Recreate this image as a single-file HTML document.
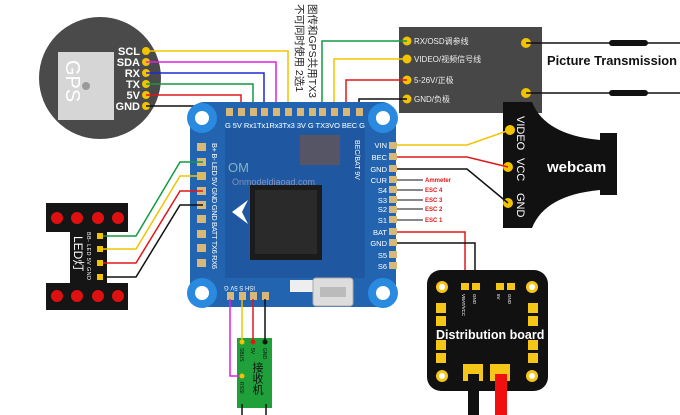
<!DOCTYPE html>
<html><head><meta charset="utf-8"><style>
html,body{margin:0;padding:0;background:#fff;}
svg{display:block;font-family:"Liberation Sans","Noto Sans CJK SC",sans-serif;}
</style></head><body>
<svg width="680" height="415" viewBox="0 0 680 415" xmlns="http://www.w3.org/2000/svg">
<!-- GPS -->
<circle cx="100" cy="78" r="61" fill="#4a4a4a"/>
<rect x="58" y="52" width="56" height="68" fill="#d6d6d6"/>
<circle cx="86" cy="86" r="4" fill="#999"/>
<text x="0" y="0" transform="translate(66,60) rotate(90)" font-size="20" fill="#fff">GPS</text>
<g font-size="11" fill="#fff" text-anchor="end" font-weight="bold">
<text x="140" y="55">SCL</text><text x="140" y="66">SDA</text><text x="140" y="77">RX</text>
<text x="140" y="88">TX</text><text x="140" y="99">5V</text><text x="140" y="110">GND</text></g>
<g fill="#f2c300"><circle cx="146" cy="51" r="4"/><circle cx="146" cy="62" r="4"/><circle cx="146" cy="73" r="4"/><circle cx="146" cy="84" r="4"/><circle cx="146" cy="95" r="4"/><circle cx="146" cy="106" r="4"/></g>
<g fill="none" stroke-width="1.5">
<polyline points="146,51 288,51 288,112" stroke="#f2c300"/>
<polyline points="146,62 276,62 276,112" stroke="#e020e0"/>
<polyline points="146,73 264,73 264,112" stroke="#1a2ad0"/>
<polyline points="146,84 253,84 253,112" stroke="#129a40"/>
<polyline points="146,95 241,95 241,112" stroke="#e01818"/>
<polyline points="146,106 229,106 229,112" stroke="#111"/>
</g>
<text x="309" y="4" font-size="10.5" style="writing-mode:vertical-rl;text-orientation:sideways" fill="#222">图传和GPS共用TX3</text>
<text x="296" y="4" font-size="10.5" style="writing-mode:vertical-rl;text-orientation:sideways" fill="#222">不可同时使用  2选1</text>
<!-- Picture transmission -->
<rect x="399" y="27" width="143" height="86" fill="#474747"/>
<g fill="#f2c300"><circle cx="407" cy="41" r="4.5"/><circle cx="407" cy="59" r="4.5"/><circle cx="407" cy="80" r="4.5"/><circle cx="407" cy="99" r="4.5"/><circle cx="526" cy="43" r="5"/><circle cx="526" cy="93" r="5"/></g>
<g font-size="8" fill="#eee"><text x="414" y="44">RX/OSD调参线</text><text x="414" y="62">VIDEO/视频信号线</text><text x="414" y="83">5-26V/正极</text><text x="414" y="102">GND/负极</text></g>
<g stroke="#111"><line x1="526" y1="43" x2="680" y2="43" stroke-width="1.5"/><line x1="526" y1="93" x2="680" y2="93" stroke-width="1.5"/>
<line x1="612" y1="43" x2="645" y2="43" stroke-width="6" stroke-linecap="round"/><line x1="612" y1="93" x2="645" y2="93" stroke-width="6" stroke-linecap="round"/></g>
<text x="547" y="65" font-size="13" font-weight="bold" fill="#111" textLength="130" lengthAdjust="spacingAndGlyphs">Picture Transmission</text>
<g fill="none" stroke-width="1.5">
<polyline points="407,41 322,41 322,112" stroke="#129a40"/>
<polyline points="407,59 334,59 334,112" stroke="#f2c300"/>
<polyline points="407,80 346,80 346,112" stroke="#e01818"/>
<polyline points="407,99 359,99 359,112" stroke="#111"/>
</g>
<!-- Webcam -->
<path d="M503,102 L532,102 Q545,135 600,140 L600,133 L617,133 L617,195 L600,195 L600,190 Q545,195 532,228 L503,228 Z" fill="#111"/>
<g fill="#f2c300"><circle cx="510" cy="130" r="5"/><circle cx="508" cy="167" r="5"/><circle cx="508" cy="203" r="5"/></g>
<g font-size="11" fill="#fff"><text transform="translate(517,116) rotate(90)">VIDEO</text><text transform="translate(517,158) rotate(90)">VCC</text><text transform="translate(517,193) rotate(90)">GND</text></g>
<text x="547" y="172" font-size="15" font-weight="bold" fill="#fff">webcam</text>
<!-- FC board -->
<rect x="190" y="102" width="206" height="205" rx="14" fill="#2364b0"/>
<rect x="225" y="128" width="140" height="150" fill="#1f58a0"/>
<rect x="250" y="185" width="72" height="75" fill="#1b1b1b"/>
<rect x="255" y="190" width="62" height="64" fill="#2a2a2a"/>
<path d="M232,212 L248,200 L242,212 L248,224 Z" fill="#fff"/>
<text x="228" y="172" font-size="13" fill="#9cc" opacity="0.8">OM</text>
<text x="232" y="185" font-size="9" fill="#aac" opacity="0.7">Onmodeldiaoad.com</text>
<rect x="300" y="135" width="40" height="30" fill="#556"/>
<rect x="290" y="280" width="25" height="12" fill="#eee"/>
<rect x="313" y="278" width="40" height="28" rx="3" fill="#ddd" stroke="#aaa"/>
<rect x="320" y="287" width="26" height="10" fill="#bbb"/>
<g fill="#2a8ae0"><circle cx="202" cy="118" r="15"/><circle cx="383" cy="118" r="15"/><circle cx="202" cy="293" r="15"/><circle cx="383" cy="293" r="15"/></g>
<g fill="#fff"><circle cx="202" cy="118" r="7"/><circle cx="383" cy="118" r="7"/><circle cx="202" cy="293" r="7"/><circle cx="383" cy="293" r="7"/></g>
<!-- top pads -->
<g fill="#d8b878"><rect x="226" y="108" width="7" height="8"/><rect x="238" y="108" width="7" height="8"/><rect x="250" y="108" width="7" height="8"/><rect x="261" y="108" width="7" height="8"/><rect x="273" y="108" width="7" height="8"/><rect x="285" y="108" width="7" height="8"/><rect x="297" y="108" width="7" height="8"/><rect x="309" y="108" width="7" height="8"/><rect x="319" y="108" width="7" height="8"/><rect x="331" y="108" width="7" height="8"/><rect x="343" y="108" width="7" height="8"/><rect x="356" y="108" width="7" height="8"/></g>
<text x="225" y="128" font-size="7.5" fill="#fff" textLength="140">G 5V Rx1Tx1Rx3Tx3 3V G TX3VO BEC G</text>
<!-- right pads -->
<g fill="#d8b878"><rect x="389" y="142" width="8" height="7"/><rect x="389" y="153" width="8" height="7"/><rect x="389" y="165" width="8" height="7"/><rect x="389" y="176" width="8" height="7"/><rect x="389" y="186" width="8" height="7"/><rect x="389" y="196" width="8" height="7"/><rect x="389" y="206" width="8" height="7"/><rect x="389" y="216" width="8" height="7"/><rect x="389" y="228" width="8" height="7"/><rect x="389" y="239" width="8" height="7"/><rect x="389" y="251" width="8" height="7"/><rect x="389" y="262" width="8" height="7"/></g>
<g font-size="7.5" fill="#fff" text-anchor="end"><text x="387" y="148">VIN</text><text x="387" y="160">BEC</text><text x="387" y="172">GND</text><text x="387" y="183">CUR</text><text x="387" y="193">S4</text><text x="387" y="203">S3</text><text x="387" y="212">S2</text><text x="387" y="223">S1</text><text x="387" y="235">BAT</text><text x="387" y="246">GND</text><text x="387" y="258">S5</text><text x="387" y="269">S6</text></g>
<text transform="translate(355,140) rotate(90)" font-size="7" fill="#fff">BEC/BAT 9V</text>
<!-- left pads -->
<g fill="#d8b878"><rect x="197" y="143" width="9" height="8"/><rect x="197" y="158" width="9" height="8"/><rect x="197" y="172" width="9" height="8"/><rect x="197" y="187" width="9" height="8"/><rect x="197" y="201" width="9" height="8"/><rect x="197" y="215" width="9" height="8"/><rect x="197" y="230" width="9" height="8"/><rect x="197" y="244" width="9" height="8"/><rect x="197" y="259" width="9" height="8"/></g>
<text transform="translate(212,143) rotate(90)" font-size="7.5" fill="#fff" textLength="126">B+ B- LED 5V GND GND BATT TX6 RX6</text>
<!-- bottom pads -->
<g fill="#d8b878"><rect x="227" y="292" width="7" height="8"/><rect x="239" y="292" width="7" height="8"/><rect x="250" y="292" width="7" height="8"/><rect x="262" y="292" width="7" height="8"/></g>
<text transform="translate(224,286) rotate(180)" font-size="6" fill="#fff" text-anchor="end">ISH  S  5V  G</text>
<!-- right wires -->
<g fill="none" stroke-width="1.5">
<polyline points="397,145 467,145 510,130" stroke="#f2c300"/>
<polyline points="397,157 467,157 508,167" stroke="#e01818"/>
<polyline points="397,169 467,169 508,203" stroke="#111"/>
<polyline points="397,232 465,232 465,285" stroke="#e01818"/>
<polyline points="397,243 475,243 475,285" stroke="#111"/>
</g>
<g stroke="#111" stroke-width="1"><line x1="397" y1="180" x2="423" y2="180"/><line x1="397" y1="190" x2="423" y2="190"/><line x1="397" y1="200" x2="423" y2="200"/><line x1="397" y1="209" x2="423" y2="209"/><line x1="397" y1="220" x2="423" y2="220"/></g>
<g font-size="6" fill="#e01818" font-weight="bold"><text x="425" y="182">Ammeter</text><text x="425" y="192">ESC 4</text><text x="425" y="202">ESC 3</text><text x="425" y="211">ESC 2</text><text x="425" y="222">ESC 1</text></g>
<!-- Distribution board -->
<rect x="427" y="270" width="121" height="121" rx="14" fill="#111"/>
<g fill="#f5c518"><circle cx="442" cy="287" r="6"/><circle cx="532" cy="287" r="6"/><circle cx="442" cy="376" r="6"/><circle cx="532" cy="376" r="6"/>
<rect x="461" y="283" width="8" height="7"/><rect x="472" y="283" width="8" height="7"/><rect x="496" y="283" width="8" height="7"/><rect x="507" y="283" width="8" height="7"/>
<rect x="436" y="303" width="10" height="10"/><rect x="436" y="316" width="10" height="10"/><rect x="436" y="340" width="10" height="10"/><rect x="436" y="353" width="10" height="10"/>
<rect x="528" y="303" width="10" height="10"/><rect x="528" y="316" width="10" height="10"/><rect x="528" y="340" width="10" height="10"/><rect x="528" y="353" width="10" height="10"/>
<rect x="463" y="364" width="20" height="17"/><rect x="490" y="364" width="20" height="17"/></g>
<circle cx="442" cy="287" r="3" fill="#fff"/><circle cx="532" cy="287" r="3" fill="#fff"/><circle cx="442" cy="376" r="3" fill="#fff"/><circle cx="532" cy="376" r="3" fill="#fff"/>
<g font-size="4.5" fill="#fff"><text transform="translate(462,294) rotate(90)">VBAT/VCC</text><text transform="translate(473,294) rotate(90)">GND</text><text transform="translate(497,294) rotate(90)">5V</text><text transform="translate(508,294) rotate(90)">GND</text></g>
<text x="436" y="339" font-size="12.5" font-weight="bold" fill="#fff">Distribution board</text>
<rect x="468" y="374" width="11" height="41" fill="#111"/>
<rect x="495" y="374" width="12" height="41" fill="#f01010"/>
<!-- LED board -->
<path d="M46,203 H128 V232 H107 V283 H128 V310 H46 V283 H70 V232 H46 Z" fill="#151515"/>
<g fill="#e01010"><circle cx="57" cy="218" r="6"/><circle cx="77" cy="218" r="6"/><circle cx="98" cy="218" r="6"/><circle cx="118" cy="218" r="6"/><circle cx="57" cy="296" r="6"/><circle cx="77" cy="296" r="6"/><circle cx="98" cy="296" r="6"/><circle cx="118" cy="296" r="6"/></g>
<g fill="#f2c300"><rect x="97" y="233" width="6" height="6"/><rect x="97" y="246" width="6" height="6"/><rect x="97" y="260" width="6" height="6"/><rect x="97" y="274" width="6" height="6"/></g>
<text transform="translate(74,236) rotate(90)" font-size="12" fill="#fff">LED灯</text>
<text transform="translate(87,232) rotate(90)" font-size="5.5" fill="#fff" textLength="48">BB- LED 5V GND</text>
<g fill="none" stroke-width="1.5">
<polyline points="103,236 136,236 180,162 203,162" stroke="#129a40"/>
<polyline points="103,249 136,249 180,176 203,176" stroke="#f2c300"/>
<polyline points="103,263 136,263 180,191 203,191" stroke="#e01818"/>
<polyline points="103,277 136,277 180,205 203,205" stroke="#111"/>
</g>
<!-- Receiver -->
<rect x="237" y="338" width="35" height="70" fill="#1fa03a"/>
<g fill="none" stroke-width="1.5">
<polyline points="230,299 230,376 242,376" stroke="#e020e0"/>
<line x1="242" y1="299" x2="242" y2="342" stroke="#f2c300"/>
<line x1="253" y1="299" x2="253" y2="342" stroke="#e01818"/>
<line x1="265" y1="299" x2="265" y2="342" stroke="#111"/>
<line x1="242" y1="404" x2="242" y2="415" stroke="#111"/>
<line x1="266" y1="404" x2="266" y2="415" stroke="#111"/>
</g>
<circle cx="242" cy="342" r="2.5" fill="#f2c300"/><circle cx="253" cy="342" r="2.5" fill="#e01818"/><circle cx="265" cy="342" r="2.5" fill="#111"/><circle cx="242" cy="376" r="2.5" fill="#f2c300"/>
<g font-size="5" fill="#111"><text transform="translate(240,348) rotate(90)">SBUS</text><text transform="translate(251,348) rotate(90)">5V</text><text transform="translate(263,348) rotate(90)">GND</text><text transform="translate(240,382) rotate(90)">RSSI</text></g>
<text x="257" y="362" font-size="11" style="writing-mode:vertical-rl" fill="#111">接收机</text>
</svg>
</body></html>
